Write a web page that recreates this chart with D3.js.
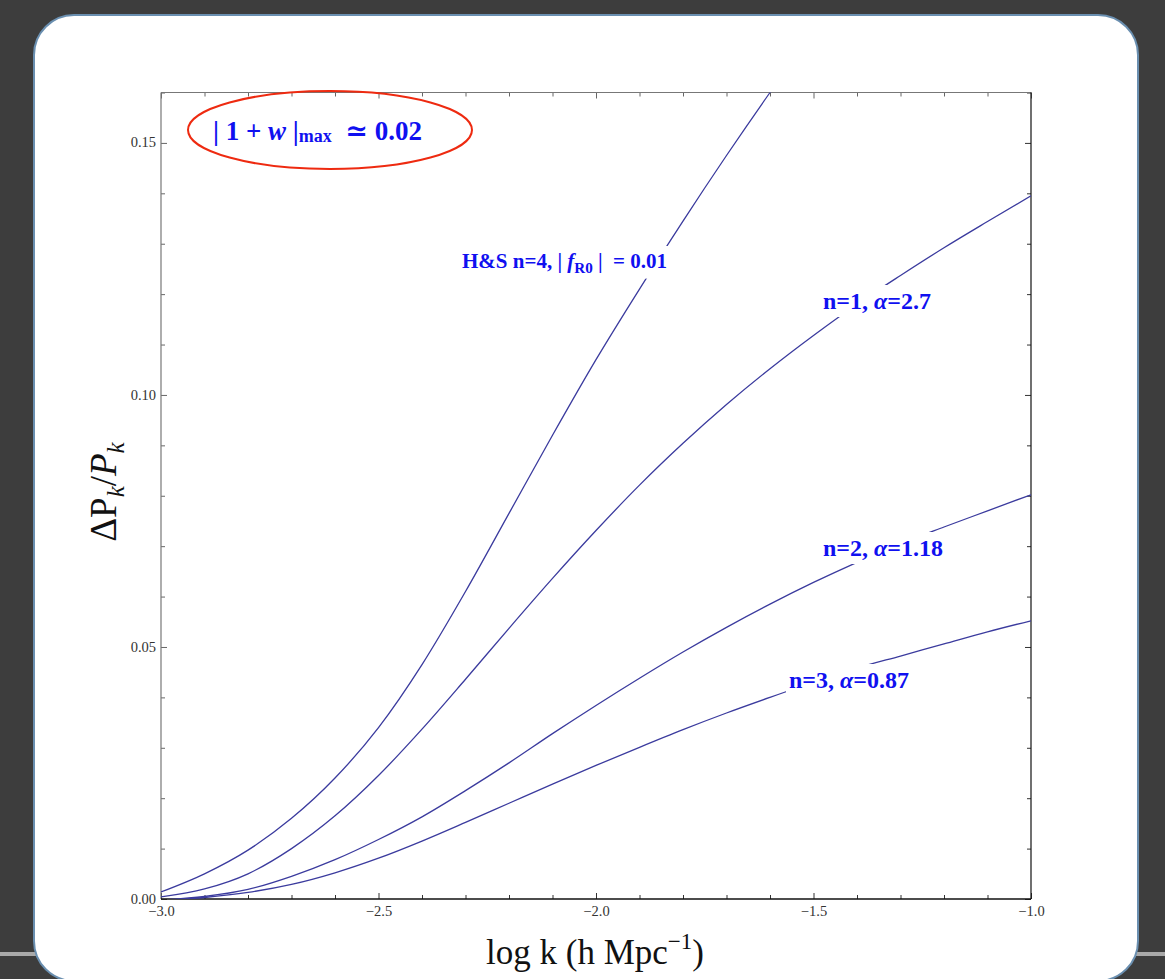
<!DOCTYPE html>
<html>
<head>
<meta charset="utf-8">
<script src="https://cdn.jsdelivr.net/npm/d3@7"></script>
<style>
  html, body { margin: 0; padding: 0; background: #3d3d3d; }
  svg { display: block; }
  text { font-family: "Liberation Serif", "DejaVu Serif", serif; }
</style>
</head>
<body>
<svg id="chart" width="1165" height="979"></svg>
<script>
// log k grid (h/Mpc), step 0.1
const logK = [-3.0,-2.9,-2.8,-2.7,-2.6,-2.5,-2.4,-2.3,-2.2,-2.1,-2.0,-1.9,-1.8,-1.7,-1.6,-1.5,-1.4,-1.3,-1.2,-1.1,-1.0];

// Delta P_k / P_k for each model
const hsN4 = [0.0014,0.0050,0.0097,0.0160,0.0240,0.0340,0.0465,0.0610,0.0765,0.0920,0.1070,0.1210,0.1345,0.1475,0.1600,0.1720];
const n1a27 = [0.0004,0.0020,0.0050,0.0100,0.0165,0.0245,0.0337,0.0436,0.0537,0.0636,0.0731,0.0821,0.0904,0.0981,0.1052,0.1118,0.1180,0.1237,0.1292,0.1344,0.1395];
const n2a118 = [-0.0002,0.0005,0.0019,0.0045,0.0078,0.0118,0.0163,0.0215,0.0270,0.0328,0.0384,0.0438,0.0490,0.0539,0.0585,0.0628,0.0668,0.0705,0.0738,0.0770,0.0802];
const n3a087 = [-0.0003,0.0003,0.0013,0.0029,0.0052,0.0081,0.0115,0.0152,0.0190,0.0228,0.0265,0.0301,0.0336,0.0369,0.0400,0.0430,0.0458,0.0482,0.0506,0.0530,0.0552];

const xTicksMajor = [-3.0,-2.5,-2.0,-1.5,-1.0];
const yTicksMajor = [0.00,0.05,0.10,0.15];

const svg = d3.select("#chart");

// card
svg.append("rect").attr("x", 0).attr("y", 952).attr("width", 40).attr("height", 4).attr("fill", "#a9a9a9");
svg.append("rect").attr("x", 1130).attr("y", 952).attr("width", 35).attr("height", 4).attr("fill", "#a9a9a9");
svg.append("rect")
  .attr("x", 34).attr("y", 15).attr("width", 1104).attr("height", 966)
  .attr("rx", 40).attr("ry", 40)
  .attr("fill", "#ffffff").attr("stroke", "#6a8fb0").attr("stroke-width", 2);

const L = 161, R = 1031, T = 92.5, B = 899;
const x = d3.scaleLinear().domain([-3.0, -1.0]).range([L, R]);
const y = d3.scaleLinear().domain([0, 0.16]).range([B, T]);

const minorX = d3.range(-30, -9).map(d => d / 10).filter(v => !xTicksMajor.some(m => Math.abs(m - v) < 1e-9));
const minorY = d3.range(0, 17).map(d => d / 100).filter(v => !yTicksMajor.some(m => Math.abs(m - v) < 1e-9));

const fmt = d3.format(".1f");
const fmtY = d3.format(".2f");

// frame ticks (inward) on all four sides; labels only on major ticks
function tickLayer(g, makeAxis, major, minor, majorLen, minorLen, color, format) {
  const gMaj = g.append("g").attr("class", "major");
  gMaj.call(makeAxis().tickValues(major).tickSize(-majorLen).tickSizeOuter(0).tickFormat(format || (() => "")));
  gMaj.select(".domain").remove();
  gMaj.selectAll(".tick line").attr("stroke", color);
  const gMin = g.append("g").attr("class", "minor");
  gMin.call(makeAxis().tickValues(minor).tickSize(-minorLen).tickSizeOuter(0).tickFormat(() => ""));
  gMin.select(".domain").remove();
  gMin.selectAll(".tick line").attr("stroke", color);
  return gMaj;
}

const gx = svg.append("g").attr("transform", `translate(0,${B})`);
tickLayer(gx, () => d3.axisBottom(x), xTicksMajor, minorX, 6, 4, "#333", fmt)
  .selectAll("text").attr("font-size", 14.5).attr("fill", "#333").attr("y", 7).attr("dy", "0.71em");

const gxt = svg.append("g").attr("transform", `translate(0,${T})`);
tickLayer(gxt, () => d3.axisTop(x), xTicksMajor, minorX, 6, 4, "#666", null);

const gy = svg.append("g").attr("transform", `translate(${L},0)`);
tickLayer(gy, () => d3.axisLeft(y), yTicksMajor, minorY, 6, 4, "#666", fmtY)
  .selectAll("text").attr("font-size", 14.5).attr("fill", "#333").attr("x", -5).attr("dy", "0.28em");

const gyr = svg.append("g").attr("transform", `translate(${R},0)`);
tickLayer(gyr, () => d3.axisRight(y), yTicksMajor, minorY, 6, 4, "#333", null);

// spines
svg.append("line").attr("x1", L).attr("x2", R).attr("y1", T).attr("y2", T).attr("stroke", "#777").attr("stroke-width", 1.2);
svg.append("line").attr("x1", L).attr("x2", L).attr("y1", T).attr("y2", B).attr("stroke", "#777").attr("stroke-width", 1.2);
svg.append("line").attr("x1", R).attr("x2", R).attr("y1", T).attr("y2", B).attr("stroke", "#111").attr("stroke-width", 1.2);
svg.append("line").attr("x1", L).attr("x2", R).attr("y1", B).attr("y2", B).attr("stroke", "#111").attr("stroke-width", 1.5);

// curves
svg.append("clipPath").attr("id", "plotclip")
  .append("rect").attr("x", L).attr("y", T).attr("width", R - L).attr("height", B - T);

const line = d3.line().x(d => x(d[0])).y(d => y(d[1])).curve(d3.curveMonotoneX);
const series = [hsN4, n1a27, n2a118, n3a087];
const curves = svg.append("g").attr("clip-path", "url(#plotclip)");
series.forEach(vals => {
  curves.append("path")
    .datum(vals.map((v, i) => [logK[i], v]))
    .attr("d", line)
    .attr("fill", "none")
    .attr("stroke", "#3b3b9e")
    .attr("stroke-width", 1.3);
});

// curve labels on white boxes
const blue = "#1010f0";
const NB = "\u00a0";
function label(xp, yp, size, parts, pad) {
  const g = svg.append("g");
  const bg = g.append("rect").attr("fill", "#fff");
  const t = g.append("text").attr("x", xp).attr("y", yp)
    .attr("font-size", size).attr("font-weight", "bold").attr("fill", blue);
  parts.forEach(p => {
    const s = t.append("tspan").text(p.t);
    if (p.i) s.attr("font-style", "italic");
    if (p.sub) s.attr("font-size", size * 0.72).attr("dy", size * 0.22);
    if (p.up) s.attr("dy", -size * 0.22);
  });
  const bb = t.node().getBBox();
  bg.attr("x", bb.x - pad).attr("y", bb.y - pad).attr("width", bb.width + 2 * pad).attr("height", bb.height + 2 * pad);
}

label(462, 268, 21, [{t: "H&S n=4," + NB + "|" + NB}, {t: "f", i: true}, {t: "R0", sub: true}, {t: NB + "|" + NB + NB + "= 0.01", up: true}], 3);
label(823, 309, 24, [{t: "n=1, "}, {t: "\u03b1", i: true}, {t: "=2.7"}], 3);
label(823, 556, 24, [{t: "n=2, "}, {t: "\u03b1", i: true}, {t: "=1.18"}], 3);
label(789, 688, 24, [{t: "n=3, "}, {t: "\u03b1", i: true}, {t: "=0.87"}], 3);

// annotation
svg.append("ellipse").attr("cx", 330).attr("cy", 130).attr("rx", 142).attr("ry", 39)
  .attr("fill", "none").attr("stroke", "#ee2a10").attr("stroke-width", 2);
const ann = svg.append("text").attr("x", 213).attr("y", 140)
  .attr("font-size", 27).attr("font-weight", "bold").attr("fill", blue);
ann.append("tspan").text("|" + NB + "1 + ");
ann.append("tspan").attr("font-style", "italic").text("w");
ann.append("tspan").text(NB + "|");
ann.append("tspan").attr("font-size", 18).attr("dy", 2).text("max");
ann.append("tspan").attr("dy", -2).text(NB + NB + "\u2243 0.02");

// axis titles
const xt = svg.append("text").attr("x", 595).attr("y", 964).attr("text-anchor", "middle")
  .attr("font-size", 35).attr("fill", "#111");
xt.append("tspan").text("log k (h Mpc");
xt.append("tspan").attr("font-size", 23).attr("dy", -15).text("\u22121");
xt.append("tspan").attr("dy", 15).text(")");

const yt = svg.append("text").attr("transform", "translate(116,492) rotate(-90)")
  .attr("text-anchor", "middle").attr("font-size", 37).attr("fill", "#111");
yt.append("tspan").text("\u0394P");
yt.append("tspan").attr("font-style", "italic").attr("font-size", 25).attr("dy", 8).text("k");
yt.append("tspan").attr("dy", -8).text("/");
yt.append("tspan").attr("font-style", "italic").text("P");
yt.append("tspan").attr("font-style", "italic").attr("font-size", 25).attr("dy", 8).text("k");
</script>
</body>
</html>
